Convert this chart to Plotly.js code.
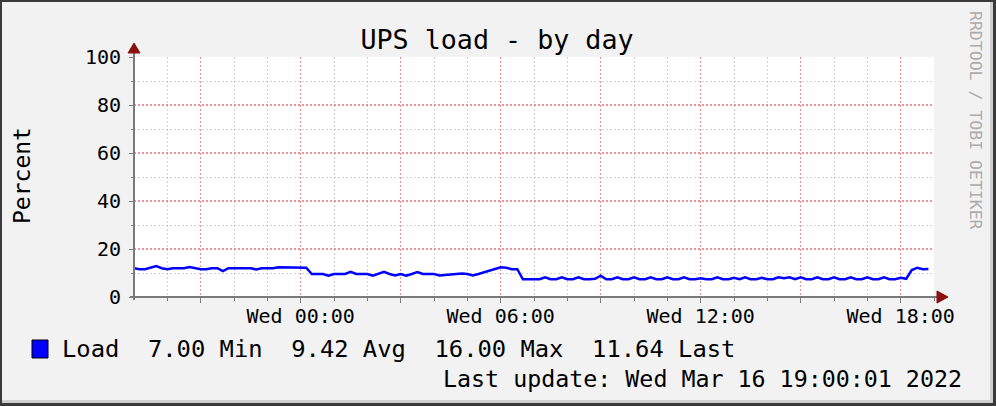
<!DOCTYPE html>
<html>
<head>
<meta charset="utf-8">
<script src="https://cdn.plot.ly/plotly-3.0.1.min.js"></script>
<style>
  html, body { margin: 0; padding: 0; background: #f2f2f2; }
  #chart { width: 996px; height: 406px; }
</style>
</head>
<body>
<div id="chart"></div>
<script>
// ---- data (10-minute samples, Tue 19:00 .. Wed 18:50) ----
const startTime = '2022-03-15T19:00:00';
const stepMinutes = 10;
const load = [
  // 19:00
  12.0, 11.6, 11.6, 12.3, 12.9, 12.0,
  // 20:00
  11.6, 12.0, 12.0, 12.0, 12.5, 12.0,
  // 21:00
  11.6, 11.6, 12.0, 12.0, 10.8, 12.0,
  // 22:00
  12.0, 12.0, 12.0, 12.0, 11.5, 12.0,
  // 23:00
  12.0, 12.0, 12.4, 12.4, 12.4, 12.4,
  // 00:00
  12.4, 12.2, 9.6, 9.6, 9.6, 8.9,
  // 01:00
  9.6, 9.6, 9.6, 10.5, 9.6, 9.6,
  // 02:00
  9.6, 8.9, 9.6, 10.5, 9.6, 9.0,
  // 03:00
  9.6, 8.9, 9.6, 10.4, 9.6, 9.6,
  // 04:00
  9.6, 9.0, 9.2, 9.6, 9.6, 9.8,
  // 05:00
  9.6, 9.0, 9.6, 10.3, 11.2, 12.0,
  // 06:00
  12.4, 12.2, 11.6, 11.6, 7.4, 7.4,
  // 07:00
  7.4, 7.4, 8.2, 7.4, 7.4, 8.2,
  // 08:00
  7.4, 7.4, 8.2, 7.4, 7.4, 7.6,
  // 09:00
  8.9, 7.4, 7.4, 8.2, 7.4, 7.4,
  // 10:00
  8.2, 7.4, 7.4, 8.2, 7.4, 7.4,
  // 11:00
  8.2, 7.4, 7.4, 8.2, 7.4, 7.4,
  // 12:00
  7.8, 7.4, 7.4, 8.2, 7.4, 7.4,
  // 13:00
  8.0, 7.4, 8.2, 7.4, 7.4, 8.0,
  // 14:00
  7.4, 7.4, 8.2, 7.8, 8.2, 7.4,
  // 15:00
  8.2, 7.4, 7.4, 8.2, 7.4, 7.4,
  // 16:00
  8.2, 7.4, 7.4, 8.2, 7.4, 7.4,
  // 17:00
  8.2, 7.4, 7.4, 8.2, 7.4, 7.4,
  // 18:00
  8.0, 7.6, 11.2, 12.2, 11.6, 11.64
];
const xRange = ['2022-03-15 19:00', '2022-03-16 19:00'];
const yRange = [0, 100];
const majorTickVals = ['2022-03-15 21:00', '2022-03-16 00:00', '2022-03-16 03:00', '2022-03-16 06:00',
                       '2022-03-16 09:00', '2022-03-16 12:00', '2022-03-16 15:00', '2022-03-16 18:00'];
const majorTickText = ['', 'Wed 00:00', '', 'Wed 06:00', '', 'Wed 12:00', '', 'Wed 18:00'];
const minorTickVals = ['2022-03-15 20:00', '2022-03-15 22:00', '2022-03-15 23:00', '2022-03-16 01:00',
                       '2022-03-16 02:00', '2022-03-16 04:00', '2022-03-16 05:00', '2022-03-16 07:00',
                       '2022-03-16 08:00', '2022-03-16 10:00', '2022-03-16 11:00', '2022-03-16 13:00',
                       '2022-03-16 14:00', '2022-03-16 16:00', '2022-03-16 17:00', '2022-03-16 19:00'];
const yTickVals = [0, 20, 40, 60, 80, 100];
const yTickText = ['0', '20', '40', '60', '80', '100'];
const yMinorVals = [10, 30, 50, 70, 90];
const seriesName = 'Load';
const statValues = ['7.00', '9.42', '16.00', '11.64'];
const statLabels = ['Min', 'Avg', 'Max', 'Last'];
const titleText = 'UPS load - by day';
const yTitle = 'Percent';
const lastUpdate = 'Last update: Wed Mar 16 19:00:01 2022';
const watermark = 'RRDTOOL / TOBI OETIKER';

// timestamps
function fmt(d) {
  const p = n => String(n).padStart(2, '0');
  return d.getFullYear() + '-' + p(d.getMonth() + 1) + '-' + p(d.getDate()) + ' ' + p(d.getHours()) + ':' + p(d.getMinutes());
}
const t0 = new Date(startTime);
const times = load.map((_, i) => fmt(new Date(t0.getTime() + i * stepMinutes * 60000)));

// ---- layout helpers (pixel -> paper) ----
const W = 996, H = 406, L = 134, R = 62, T = 57, B = 109;
const PW = W - L - R, PH = H - T - B;
const px = x => (x - L) / PW;
const py = y => (H - B - y) / PH;

const FONT = 'DejaVu Sans Mono, monospace';
const NB = '\u00a0';
const legendText = seriesName + NB + NB + statValues.map((v, i) => v + NB + statLabels[i]).join(NB + NB);

const dark = '#3a3a3a';
const shade = '#cfcfcf';
const axisCol = '#7a7a7a';
const arrowCol = '#8b1010';

const shapes = [
  // frame
  {type: 'rect', xref: 'paper', yref: 'paper', x0: px(0), x1: px(W), y0: py(0), y1: py(2), fillcolor: dark, line: {width: 0}},
  {type: 'rect', xref: 'paper', yref: 'paper', x0: px(0), x1: px(2), y0: py(0), y1: py(H), fillcolor: dark, line: {width: 0}},
  {type: 'rect', xref: 'paper', yref: 'paper', x0: px(990), x1: px(993), y0: py(2), y1: py(403), fillcolor: shade, line: {width: 0}},
  {type: 'rect', xref: 'paper', yref: 'paper', x0: px(2), x1: px(993), y0: py(400), y1: py(403), fillcolor: shade, line: {width: 0}},
  {type: 'rect', xref: 'paper', yref: 'paper', x0: px(993), x1: px(W), y0: py(0), y1: py(H), fillcolor: dark, line: {width: 0}},
  {type: 'rect', xref: 'paper', yref: 'paper', x0: px(0), x1: px(W), y0: py(403), y1: py(H), fillcolor: dark, line: {width: 0}},
  // axes
  {type: 'line', xref: 'paper', yref: 'paper', x0: px(134), x1: px(134), y0: py(300), y1: py(52), line: {color: axisCol, width: 2}},
  {type: 'line', xref: 'paper', yref: 'paper', x0: px(130), x1: px(940), y0: py(297), y1: py(297), line: {color: axisCol, width: 2}},
  // arrows
  {type: 'path', xref: 'paper', yref: 'paper',
   path: 'M ' + px(128) + ',' + py(53) + ' L ' + px(134) + ',' + py(43) + ' L ' + px(140) + ',' + py(53) + ' Z',
   fillcolor: arrowCol, line: {color: arrowCol, width: 1}},
  {type: 'path', xref: 'paper', yref: 'paper',
   path: 'M ' + px(937) + ',' + py(291) + ' L ' + px(948) + ',' + py(297) + ' L ' + px(937) + ',' + py(303) + ' Z',
   fillcolor: arrowCol, line: {color: arrowCol, width: 1}},
  // legend swatch
  {type: 'rect', xref: 'paper', yref: 'paper', x0: px(32), x1: px(48), y0: py(340), y1: py(358),
   fillcolor: '#0000ff', line: {color: '#000000', width: 1}}
];

const annotations = [
  {text: yTitle, xref: 'paper', yref: 'paper', x: px(22), y: py(175), textangle: -90, showarrow: false,
   xanchor: 'center', yanchor: 'middle', font: {family: FONT, size: 23, color: '#000'}},
  {text: watermark, xref: 'paper', yref: 'paper', x: px(975), y: py(120), textangle: 90, showarrow: false,
   xanchor: 'center', yanchor: 'middle', font: {family: FONT, size: 16.5, color: '#ababab'}},
  {text: legendText, xref: 'paper', yref: 'paper', x: px(60), y: py(349), showarrow: false,
   xanchor: 'left', yanchor: 'middle', font: {family: FONT, size: 23.8, color: '#000'}},
  {text: lastUpdate, xref: 'paper', yref: 'paper', x: px(964), y: py(378), showarrow: false,
   xanchor: 'right', yanchor: 'middle', font: {family: FONT, size: 23.3, color: '#000'}}
];

const trace = {
  type: 'scatter', mode: 'lines', x: times, y: load, name: seriesName,
  line: {color: '#0000ff', width: 2.5}, hoverinfo: 'skip', showlegend: false
};

const majorGridX = 'rgba(222,80,80,0.6)';
const majorGridY = 'rgba(222,80,80,0.6)';
const minorGrid = 'rgba(143,143,143,0.4)';

const layout = {
  width: W, height: H,
  margin: {l: L, r: R, t: T, b: B, pad: 0},
  paper_bgcolor: '#f2f2f2', plot_bgcolor: '#ffffff',
  font: {family: FONT, size: 20, color: '#000'},
  title: {text: titleText, font: {family: FONT, size: 26.7, color: '#000'},
          xref: 'container', x: 497 / W, xanchor: 'center', yref: 'container', y: 1 - 40 / H, yanchor: 'middle'},
  showlegend: false,
  xaxis: {
    type: 'date', range: xRange, fixedrange: true,
    tickmode: 'array', tickvals: majorTickVals, ticktext: majorTickText,
    ticks: 'outside', ticklen: 5, tickcolor: axisCol, tickwidth: 1, ticklabelstandoff: -4,
    showgrid: true, gridcolor: majorGridX, griddash: '2px,2px', gridwidth: 1,
    zeroline: false, showline: false,
    tickfont: {family: FONT, size: 20, color: '#000'},
    minor: {tickmode: 'array', tickvals: minorTickVals, showgrid: true, gridcolor: minorGrid,
            griddash: '2px,2px', gridwidth: 1, ticks: 'outside', ticklen: 3, tickcolor: axisCol}
  },
  yaxis: {
    range: yRange, fixedrange: true,
    tickmode: 'array', tickvals: yTickVals, ticktext: yTickText,
    ticks: 'outside', ticklen: 4, tickcolor: axisCol, tickwidth: 1,
    showgrid: true, gridcolor: majorGridY, griddash: '2px,2px', gridwidth: 1.2,
    zeroline: false, showline: false, ticklabelstandoff: 4,
    tickfont: {family: FONT, size: 20, color: '#000'},
    minor: {tickmode: 'array', tickvals: yMinorVals, showgrid: true, gridcolor: minorGrid, griddash: '2px,2px', gridwidth: 1,
            ticks: 'outside', ticklen: 2, tickcolor: axisCol}
  },
  shapes: shapes,
  annotations: annotations
};

Plotly.newPlot('chart', [trace], layout, {staticPlot: true, displayModeBar: false});
</script>
</body>
</html>
